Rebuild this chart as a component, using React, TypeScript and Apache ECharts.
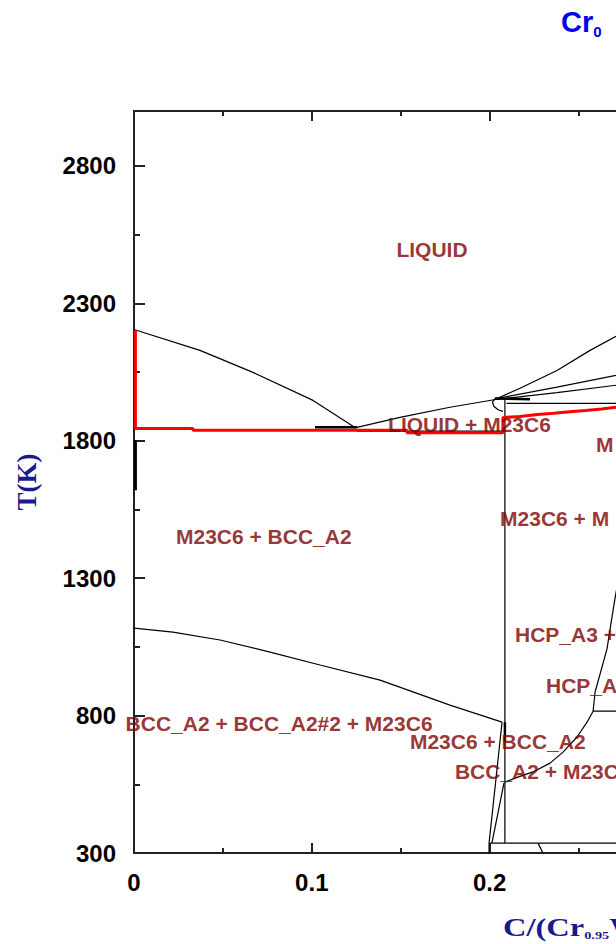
import React, { useEffect, useRef } from "react";
import * as echarts from "echarts";

type Pt = [number, number];

// Axis ranges and ticks
const xMin = 0;
const xMax = 0.3;
const xStep = 0.1;
const yMin = 300;
const yMax = 3000;
const yStep = 500;
const yMinorStep = 250;

// Phase boundaries (x = C fraction, y = T in K)
const liquidusLeft: Pt[] = [[0, 2205], [0.0371, 2129], [0.0669, 2049], [0.1007, 1947], [0.1232, 1853], [0.1254, 1849]];
const liquidusM23C6: Pt[] = [[0.1254, 1849], [0.1496, 1885], [0.1777, 1922], [0.2042, 1951]];
const eutecticLeft: Pt[] = [[0.1018, 1849], [0.1254, 1849]];
const eutecticRight: Pt[] = [[0.1254, 1835], [0.2086, 1835]];
const m23c6Line: Pt[] = [[0.2086, 1954], [0.2086, 336]];
const bottomLine: Pt[] = [[0.2003, 336], [0.3, 336]];
const bottomTick: Pt[] = [[0.2272, 336], [0.23, 300]];
const solvus: Pt[] = [[0, 1118], [0.0219, 1104], [0.0484, 1075], [0.0765, 1031], [0.1046, 984], [0.1384, 929], [0.1777, 838], [0.207, 776]];
const lineA: Pt[] = [[0.207, 776], [0.1997, 336], [0.1997, 300]];
const lineB: Pt[] = [[0.2081, 555], [0.2013, 336]];
const hcpCurve: Pt[] = [[0.2086, 558], [0.2159, 576], [0.2244, 595], [0.234, 627], [0.2413, 667], [0.2492, 722], [0.2548, 776], [0.2582, 816]];
const hcpFlat: Pt[] = [[0.2582, 816], [0.3, 816]];
const hcpSteep: Pt[] = [[0.2582, 816], [0.2593, 885], [0.266, 1042], [0.2699, 1202], [0.2728, 1311]];
const fanTop: Pt[] = [[0.2042, 1954], [0.2171, 1991], [0.2379, 2056], [0.2565, 2129], [0.2711, 2180], [0.2902, 2245]];
const fanMid: Pt[] = [[0.2042, 1954], [0.2379, 1995], [0.2711, 2038], [0.29, 2062]];
const fanLow: Pt[] = [[0.2042, 1951], [0.2379, 1975], [0.2711, 2002], [0.29, 2018]];
const flat1936: Pt[] = [[0.2095, 1936], [0.3, 1936]];
const loop: Pt[] = [[0.203, 1954], [0.2016, 1940], [0.2025, 1925], [0.205, 1912], [0.2075, 1907]];
const thickTop: Pt[] = [[0.203, 1954], [0.2227, 1951]];
const thickLeft: Pt[] = [[0.0008, 1802], [0.0008, 1620]];
const thickMid: Pt[] = [[0.2086, 776], [0.2086, 705]];
const redPath: Pt[] = [
  [0.0008, 2202], [0.0008, 1845], [0.0332, 1845], [0.0332, 1838], [0.1535, 1838], [0.1535, 1829],
  [0.2075, 1829], [0.2075, 1885], [0.217, 1888], [0.227, 1896], [0.236, 1900], [0.245, 1906],
  [0.254, 1910], [0.263, 1916], [0.2711, 1922], [0.29, 1935],
];

// Region labels (as far as they are visible)
const labelNames = [
  "LIQUID", "LIQUID + M23C6", "M", "M23C6 + BCC_A2", "M23C6 + M",
  "HCP_A3 +", "HCP_A", "BCC_A2 + BCC_A2#2 + M23C6", "M23C6 + BCC_A2",
  "BCC_A2 + M23C",
];
const labelX = [0.1676, 0.1429, 0.2598, 0.0236, 0.2059, 0.2143, 0.2317, 0.0816, 0.1552, 0.1805];
const labelT = [2496, 1860, 1787, 1453, 1518, 1096, 911, 773, 704, 595];
const labelAlign = ["center", "left", "left", "left", "left", "left", "left", "center", "left", "left"];

export default function App() {
  const ref = useRef<HTMLDivElement>(null);
  useEffect(() => {
    const chart = echarts.init(ref.current!, null, { renderer: "svg" });
    const line = (data: Pt[], color = "#000", width = 1.2, z = 2) => ({
      type: "line",
      data,
      symbol: "none",
      showSymbol: false,
      silent: true,
      clip: true,
      z,
      lineStyle: { color, width },
    });
    const tickFont = { fontFamily: "'Liberation Sans', Arial, sans-serif", fontWeight: "bold", fontSize: 24, color: "#000" };
    const axisLine = { show: true, lineStyle: { color: "#222", width: 2 } };
    const gridW = (xMax - xMin) * 1778;
    const option: any = {
      animation: false,
      backgroundColor: "#fff",
      grid: { left: 134, top: 111, width: gridW, height: 742, containLabel: false, outerBoundsMode: "none" },
      xAxis: [
        {
          type: "value", min: xMin, max: xMax, interval: xStep, position: "bottom",
          axisLine,
          axisTick: { show: true, inside: true, length: 10, lineStyle: { color: "#222", width: 2 } },
          minorTick: { show: true, splitNumber: 2, length: 5, lineStyle: { color: "#222", width: 2 } },
          splitLine: { show: false },
          axisLabel: { ...tickFont, margin: 17, showMaxLabel: false, formatter: (v: number) => (v === 0 ? "0" : String(Math.round(v * 10) / 10)) },
        },
        {
          type: "value", min: xMin, max: xMax, interval: xStep, position: "top",
          axisLine,
          axisTick: { show: true, inside: true, length: 10, lineStyle: { color: "#222", width: 2 } },
          minorTick: { show: true, splitNumber: 2, length: 5, lineStyle: { color: "#222", width: 2 } },
          splitLine: { show: false },
          axisLabel: { show: false },
        },
      ],
      yAxis: [
        {
          type: "value", min: yMin, max: yMax, interval: yStep, position: "left",
          axisLine,
          axisTick: { show: true, inside: true, length: 11, lineStyle: { color: "#222", width: 2 } },
          splitLine: { show: false },
          axisLabel: { ...tickFont, margin: 18, showMaxLabel: false, formatter: (v: number) => String(v) },
        },
        {
          type: "value", min: yMin, max: yMax, interval: yMinorStep, position: "left",
          axisLine: { show: false },
          axisTick: { show: true, inside: true, length: 6, lineStyle: { color: "#222", width: 2 } },
          splitLine: { show: false },
          axisLabel: { show: false },
        },
      ],
      series: [
        line(liquidusLeft),
        line(liquidusM23C6),
        line(eutecticRight),
        line(m23c6Line),
        line(bottomLine),
        line(bottomTick),
        line(solvus),
        line(lineA),
        line(lineB),
        line(hcpCurve),
        line(hcpFlat),
        line(hcpSteep),
        line(fanTop),
        line(fanMid),
        line(fanLow),
        line(flat1936),
        line(loop),
        line(thickMid, "#000", 2.5),
        line(redPath, "#ff0000", 3, 3),
        line(eutecticLeft, "#000", 2.5, 4),
        line(thickTop, "#000", 2.5, 4),
        line(thickLeft, "#000", 3, 4),
        {
          type: "scatter",
          symbolSize: 1,
          clip: false,
          silent: true,
          z: 10,
          itemStyle: { color: "rgba(0,0,0,0)" },
          label: {
            show: true,
            formatter: "{b}",
            color: "#800000",
            fontSize: 21,
            fontWeight: "bold",
            fontFamily: "'Liberation Sans', Arial, sans-serif",
          },
          data: labelNames.map((n, i) => ({
            name: n,
            value: [labelX[i], labelT[i]],
            label: { position: "inside", align: labelAlign[i], verticalAlign: "middle" },
          })),
        },
      ],
      graphic: [
        {
          type: "text",
          x: 561,
          y: 22,
          style: {
            text: "Cr{s|0}",
            fill: "#0000ee",
            fontSize: 29,
            fontWeight: "bold",
            fontFamily: "'Liberation Sans', Arial, sans-serif",
            lineHeight: 34,
            verticalAlign: "middle",
            align: "left",
            rich: {
              s: { fontSize: 15, lineHeight: 15, verticalAlign: "bottom", fill: "#0000ee", fontWeight: "bold", fontFamily: "'Liberation Sans', Arial, sans-serif" },
            },
          },
        },
        {
          type: "text",
          x: 503,
          y: 927,
          scaleX: 1.3,
          style: {
            text: "C/(Cr{s|0.95}W",
            fill: "#1a1a8f",
            fontSize: 25,
            fontWeight: "bold",
            fontFamily: "'Liberation Serif', 'Times New Roman', serif",
            lineHeight: 28,
            verticalAlign: "middle",
            align: "left",
            rich: {
              s: { fontSize: 11, lineHeight: 11, verticalAlign: "bottom", fill: "#1a1a8f", fontWeight: "bold", fontFamily: "'Liberation Serif', 'Times New Roman', serif" },
            },
          },
        },
        {
          type: "text",
          x: 27,
          y: 482,
          rotation: Math.PI / 2,
          style: {
            text: "T(K)",
            fill: "#1a1a8f",
            fontSize: 27,
            fontWeight: "bold",
            fontFamily: "'Liberation Serif', 'Times New Roman', serif",
            align: "center",
            verticalAlign: "middle",
          },
        },
      ],
    };
    chart.setOption(option);
    return () => chart.dispose();
  }, []);
  return (
    <div
      ref={ref}
      style={{ position: "fixed", left: 0, top: 0, width: 616, height: 944, background: "#fff", overflow: "hidden" }}
    />
  );
}
